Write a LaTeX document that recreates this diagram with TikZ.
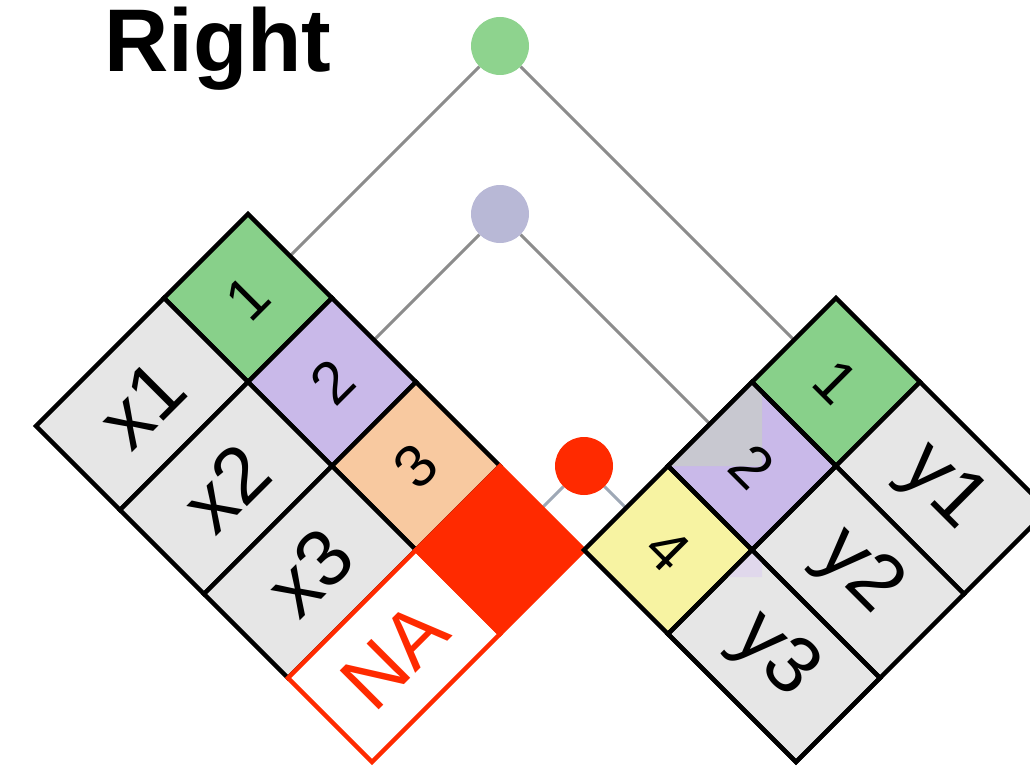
\documentclass[tikz,border=0pt]{standalone}
\usepackage{fontspec}
\setmainfont{Liberation Sans}
\usetikzlibrary{backgrounds}
\definecolor{keygreen}{HTML}{88D08A}
\definecolor{dotgreen}{HTML}{8ED38E}
\definecolor{keypurple}{HTML}{C9B9E9}
\definecolor{dotpurple}{HTML}{B8B8D6}
\definecolor{keyorange}{HTML}{F8C9A0}
\definecolor{keyyellow}{HTML}{F7F3A2}
\definecolor{valgray}{HTML}{E6E6E6}
\definecolor{nared}{HTML}{FF2A00}
\definecolor{linkgray}{HTML}{8C8C8C}
\definecolor{linkblue}{HTML}{9EA8B6}
\definecolor{ghostgray}{HTML}{C8C8D0}
\definecolor{ghostpurple}{HTML}{E0D8EC}
\tikzset{
  cellbase/.style={draw=black, line width=4.5pt, inner sep=0pt, outer sep=0pt},
  keyfont/.style={font=\fontsize{60}{60}\selectfont},
  keycell/.style={cellbase, keyfont, minimum width=118.8pt, minimum height=118.8pt},
  valcell/.style={cellbase, fill=valgray, minimum width=181pt, minimum height=118.8pt,
    font=\fontsize{80}{80}\selectfont},
  leftcell/.style={rotate=45},
  rightcell/.style={rotate=-45},
  dotnode/.style={circle, inner sep=0pt, outer sep=0pt, minimum size=58pt},
  link/.style={draw=linkgray, line width=3pt},
  redlink/.style={draw=linkblue, line width=3pt},
  border/.style={draw=black, line width=4.5pt},
}
\begin{document}
\begin{tikzpicture}[x=1pt, y=-1pt]
\useasboundingbox (0,0) rectangle (1030,770);
\clip (0,0) rectangle (1030,770);

% title
\node[anchor=base west, inner sep=0pt, font=\fontsize{89}{89}\selectfont\bfseries] (title) at (104,72) {Right};

% key dots
\node[dotnode, fill=dotgreen] (gdot) at (500,46) {};
\node[dotnode, fill=dotpurple] (pdot) at (500,214) {};
\node[dotnode, fill=nared] (rdot) at (584,466) {};

% left table (x)
\node[keycell, leftcell, fill=keygreen] (lk1) at (248,298) {1};
\node[valcell, leftcell] (lv1) at (142,404) {x1};
\node[keycell, leftcell, fill=keypurple] (lk2) at (332,382) {2};
\node[valcell, leftcell] (lv2) at (226,488) {x2};
\node[keycell, leftcell, fill=keyorange] (lk3) at (416,466) {3};
\node[valcell, leftcell] (lv3) at (310,572) {x3};
\node[valcell, leftcell, draw=nared, fill=white, text=nared] (lv4) at (394,656) {NA};
\node[keycell, leftcell, draw=nared, fill=nared] (lk4) at (500,550) {};

% right table (y)
\node[keycell, rightcell, fill=keygreen] (rk1) at (836,382) {1};
\node[keycell, rightcell, fill=keypurple] (rk2) at (752,466) {};
\node[keycell, rightcell, fill=keyyellow] (rk3) at (668,550) {4};
\node[valcell, rightcell] (rv1) at (942,488) {y1};
\node[valcell, rightcell] (rv2) at (858,572) {y2};
\node[valcell, rightcell] (rv3) at (774,656) {y3};

% frame artefacts seen in the reference
\fill[ghostgray] (rk2.north west) -- (762,392) -- (762,466) -- (rk2.south west) -- cycle;
\draw[border] (rk2.north west) -- (rk2.north east) -- (rk2.south east) -- (rk2.south west) -- cycle;
\node[keyfont, rotate=-45, inner sep=0pt] (rk2label) at (rk2.center) {2};
\fill[ghostpurple] (rv3.north west) -- (762,560) -- (762,577) -- (725,577) -- cycle;
\draw[border] (rv3.north west) -- (rv3.north east) -- (rv3.south east) -- (rv3.south west) -- cycle;

% connectors
\begin{scope}[on background layer]
\draw[link] (gdot) -- (lk1.east);
\draw[link] (gdot) -- (rk1.west);
\draw[link] (pdot) -- (lk2.east);
\draw[link] (pdot) -- (rk2.west);
\draw[redlink] (rdot) -- (lk4.east);
\draw[redlink] (rdot) -- (rk3.west);
\end{scope}
\end{tikzpicture}
\end{document}
